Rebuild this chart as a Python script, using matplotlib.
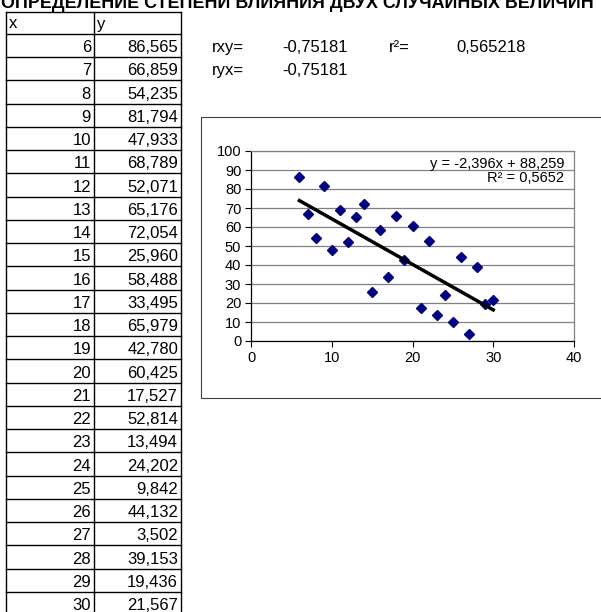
import numpy as np
import matplotlib
matplotlib.use("Agg")
import matplotlib.pyplot as plt
from matplotlib.patches import Rectangle

plt.rcParams['font.family'] = ['Liberation Sans', 'DejaVu Sans']

# DATA
titulo = "ОПРЕДЕЛЕНИЕ СТЕПЕНИ ВЛИЯНИЯ ДВУХ СЛУЧАЙНЫХ ВЕЛИЧИН"
x_vals = list(range(6, 31))
y_vals = [86.565, 66.859, 54.235, 81.794, 47.933, 68.789, 52.071, 65.176,
          72.054, 25.960, 58.488, 33.495, 65.979, 42.780, 60.425, 17.527,
          52.814, 13.494, 24.202, 9.842, 44.132, 3.502, 39.153, 19.436, 21.567]
stats_labels = ["rxy=", "ryx=", "r²="]
stats_values = ["-0,75181", "-0,75181", "0,565218"]
trend_label = "y = -2,396x + 88,259\nR² = 0,5652"
x_ticks = [0, 10, 20, 30, 40]
y_ticks = [0, 10, 20, 30, 40, 50, 60, 70, 80, 90, 100]

W, H = 601, 612
fig = plt.figure(figsize=(W / 100, H / 100), dpi=100)

# fundo em coordenadas de pixel (tabela e textos)
bg = fig.add_axes([0, 0, 1, 1])
bg.set_xlim(0, W)
bg.set_ylim(H, 0)
bg.axis('off')

bg.text(1, 8.5, titulo, fontsize=12.9, fontweight='bold', va='baseline', ha='left')

# tabela
col_x = [6, 94, 181]
top = 12
head_bottom = 34
row_h = 23.24
n = len(x_vals)
lines_y = [top, head_bottom] + [head_bottom + row_h * (i + 1) for i in range(n)]
for yy in lines_y:
    bg.plot([col_x[0], col_x[2]], [yy, yy], color='black', lw=1.0)
for xx in col_x:
    bg.plot([xx, xx], [top, H + 5], color='black', lw=1.0)

fs = 12
bg.text(col_x[0] + 3, head_bottom - 5.5, "x", fontsize=fs, va='baseline')
bg.text(col_x[1] + 3, head_bottom - 5.5, "y", fontsize=fs, va='baseline')
for i, (xv, yv) in enumerate(zip(x_vals, y_vals)):
    base = head_bottom + row_h * (i + 1) - 5
    bg.text(col_x[1] - 3, base, str(xv), fontsize=fs, ha='right', va='baseline')
    bg.text(col_x[2] - 3, base, f"{yv:.3f}".replace('.', ','), fontsize=fs,
            ha='right', va='baseline')

# rxy, ryx, r2
r1 = head_bottom + row_h - 5
r2 = head_bottom + 2 * row_h - 5
bg.text(212, r1, stats_labels[0], fontsize=fs, va='baseline')
bg.text(282, r1, stats_values[0], fontsize=fs, va='baseline')
bg.text(212, r2, stats_labels[1], fontsize=fs, va='baseline')
bg.text(282, r2, stats_values[1], fontsize=fs, va='baseline')
bg.text(389, r1, stats_labels[2], fontsize=fs, va='baseline')
bg.text(456, r1, stats_values[2], fontsize=fs, va='baseline')

# moldura do grafico
bg.add_patch(Rectangle((201, 117), 410, 281, fill=False, edgecolor='#404040', lw=0.8))

# grafico de dispersao
left, right, ptop, pbot = 251, 574, 151, 341
ax = fig.add_axes([left / W, 1 - pbot / H, (right - left) / W, (pbot - ptop) / H])
ax.set_xlim(0, 40)
ax.set_ylim(0, 100)
ax.set_xticks(x_ticks)
ax.set_yticks(y_ticks)
ax.tick_params(labelsize=10.5, direction='out', length=4, width=0.8, pad=3)
ax.yaxis.grid(True, color='#808080', lw=0.9)
ax.set_axisbelow(True)
for s in ['top', 'right']:
    ax.spines[s].set_color('#808080')
    ax.spines[s].set_linewidth(0.9)
for s in ['left', 'bottom']:
    ax.spines[s].set_color('black')
    ax.spines[s].set_linewidth(0.9)

ax.plot(x_vals, y_vals, linestyle='none', marker='D', markersize=5.5,
        color='#000080', zorder=3)

# linha de tendencia
k, b = np.polyfit(x_vals, y_vals, 1)
xt = np.array([min(x_vals), max(x_vals)])
ax.plot(xt, k * xt + b, color='black', lw=2.5, zorder=4)
ax.text(38.8, 89.5, trend_label, fontsize=10.5, ha='right', va='center',
        multialignment='right', linespacing=1.0)

plt.savefig("out.png", dpi=100)
